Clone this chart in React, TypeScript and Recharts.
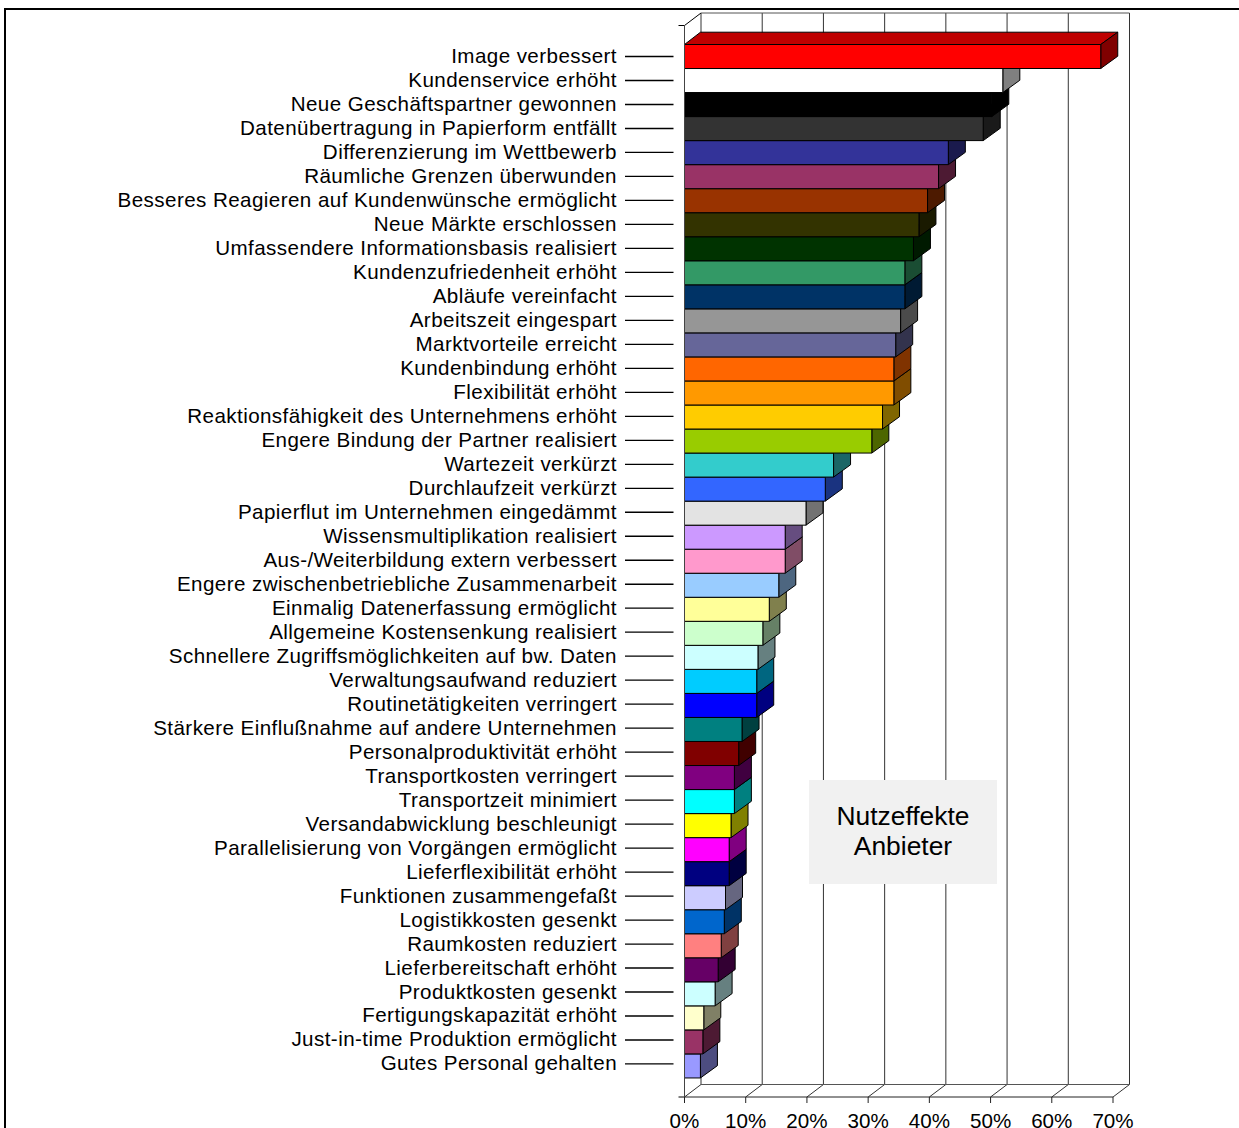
import React from "react";
import { Bar, BarChart, CartesianGrid, ReferenceArea, XAxis, YAxis } from "recharts";

const categories = [
  "Image verbessert",
  "Kundenservice erhöht",
  "Neue Geschäftspartner gewonnen",
  "Datenübertragung in Papierform entfällt",
  "Differenzierung im Wettbewerb",
  "Räumliche Grenzen überwunden",
  "Besseres Reagieren auf Kundenwünsche ermöglicht",
  "Neue Märkte erschlossen",
  "Umfassendere Informationsbasis realisiert",
  "Kundenzufriedenheit erhöht",
  "Abläufe vereinfacht",
  "Arbeitszeit eingespart",
  "Marktvorteile erreicht",
  "Kundenbindung erhöht",
  "Flexibilität erhöht",
  "Reaktionsfähigkeit des Unternehmens erhöht",
  "Engere Bindung der Partner realisiert",
  "Wartezeit verkürzt",
  "Durchlaufzeit verkürzt",
  "Papierflut im Unternehmen eingedämmt",
  "Wissensmultiplikation realisiert",
  "Aus-/Weiterbildung extern verbessert",
  "Engere zwischenbetriebliche Zusammenarbeit",
  "Einmalig Datenerfassung ermöglicht",
  "Allgemeine Kostensenkung realisiert",
  "Schnellere Zugriffsmöglichkeiten auf bw. Daten",
  "Verwaltungsaufwand reduziert",
  "Routinetätigkeiten verringert",
  "Stärkere Einflußnahme auf andere Unternehmen",
  "Personalproduktivität erhöht",
  "Transportkosten verringert",
  "Transportzeit minimiert",
  "Versandabwicklung beschleunigt",
  "Parallelisierung von Vorgängen ermöglicht",
  "Lieferflexibilität erhöht",
  "Funktionen zusammengefaßt",
  "Logistikkosten gesenkt",
  "Raumkosten reduziert",
  "Lieferbereitschaft erhöht",
  "Produktkosten gesenkt",
  "Fertigungskapazität erhöht",
  "Just-in-time Produktion ermöglicht",
  "Gutes Personal gehalten",
];

const shares = [
  68, 52, 50.2, 48.8, 43.1, 41.5, 39.7, 38.3, 37.4, 36, 36, 35.3, 34.5, 34.2, 34.2, 32.35, 30.6,
  24.35, 23, 19.85, 16.45, 16.45, 15.4, 13.85, 12.8, 12, 11.8, 11.8, 9.4, 8.85, 8.15, 8.15, 7.6,
  7.3, 7.3, 6.7, 6.5, 6, 5.5, 5, 3.15, 3, 2.6,
];

const barColors = [
  "#ff0000", "#ffffff", "#000000", "#333333", "#333399", "#993366", "#993300", "#333300",
  "#003300", "#339966", "#003366", "#969696", "#666699", "#ff6600", "#ff9900", "#ffcc00",
  "#99cc00", "#33cccc", "#3366ff", "#e3e3e3", "#cc99ff", "#ff99cc", "#99ccff", "#ffff99",
  "#ccffcc", "#ccffff", "#00ccff", "#0000ff", "#008080", "#800000", "#800080", "#00ffff",
  "#ffff00", "#ff00ff", "#000080", "#ccccff", "#0066cc", "#ff8080", "#660066", "#ccffff",
  "#ffffcc", "#993366", "#9999ff",
];

const percentTicks = [0, 10, 20, 30, 40, 50, 60, 70];

// Bottom row first, so each bar paints over the side face of the one below it.
const rows = categories
  .map((name, i) => ({ name, share: shares[i], color: barColors[i] }))
  .reverse();

const FONT = "'Liberation Sans', Arial, sans-serif";
const CATEGORY_PADDING = 19;
const WALL_DX = 16.5;
const WALL_DY = 12.5;
const BAR_DX = 17;
const BAR_DY = 12.3;
const WALL_STROKE = "#333";

function shade(hex: string, factor: number) {
  const n = parseInt(hex.slice(1), 16);
  const part = (shift: number) => Math.round(((n >> shift) & 255) * factor);
  return `rgb(${part(16)},${part(8)},${part(0)})`;
}

function Bar3D(props: any) {
  const { x, y, width, height, payload } = props;
  const right = x + width;
  const bottom = y + height;
  const edge = { stroke: "#000", strokeWidth: 1, strokeLinejoin: "round" as const };
  return (
    <g>
      <polygon
        points={`${x},${y} ${x + 16},${y - BAR_DY} ${right + BAR_DX},${y - BAR_DY} ${right},${y}`}
        fill={shade(payload.color, 0.75)}
        {...edge}
      />
      <polygon
        points={`${right},${y} ${right + BAR_DX},${y - BAR_DY} ${right + BAR_DX},${bottom - BAR_DY} ${right},${bottom}`}
        fill={shade(payload.color, 0.5)}
        {...edge}
      />
      <rect x={x} y={y} width={width} height={height} fill={payload.color} {...edge} />
    </g>
  );
}

// One back-wall line and its floor diagonal per percent tick
function WallLine(props: any) {
  const { x1, y1, y2 } = props;
  return (
    <g>
      <line x1={x1 + WALL_DX} y1={y1 - WALL_DY} x2={x1 + WALL_DX} y2={y2 - WALL_DY} stroke={WALL_STROKE} />
      <line x1={x1} y1={y2} x2={x1 + WALL_DX} y2={y2 - WALL_DY} stroke={WALL_STROKE} />
    </g>
  );
}

// The area only spans the bands, so the axis padding is added back to reach the plot edges
function WallFrame(props: any) {
  const { x, y, width, height } = props;
  const right = x + width;
  const top = y - CATEGORY_PADDING;
  const bottom = y + height + CATEGORY_PADDING;
  return (
    <g stroke="#555" fill="none">
      <line x1={x + WALL_DX} y1={top - WALL_DY} x2={right + WALL_DX} y2={top - WALL_DY} />
      <line x1={x + WALL_DX} y1={bottom - WALL_DY} x2={right + WALL_DX} y2={bottom - WALL_DY} />
      <line x1={x} y1={top} x2={x + WALL_DX} y2={top - WALL_DY} stroke="#000" />
      <line x1={x - 6} y1={top} x2={x} y2={top} stroke="#000" />
      <line x1={x - 6} y1={bottom} x2={x} y2={bottom} stroke="#000" />
    </g>
  );
}

function CategoryTick(props: any) {
  const { y, payload } = props;
  // The labels run on a slightly tighter pitch than the bars
  const labelY = 56 + (y - 56) * 0.998;
  return (
    <g>
      <text
        x={617}
        y={labelY + 6.5}
        textAnchor="end"
        fontFamily={FONT}
        fontSize={20.6}
        letterSpacing={0.42}
        fill="#000"
      >
        {payload.value}
      </text>
      <line x1={625} y1={labelY} x2={673.5} y2={labelY} stroke="#000" strokeWidth={1.3} />
    </g>
  );
}

function PercentTick(props: any) {
  const { x, payload } = props;
  return (
    <text x={x} y={1127.5} textAnchor="middle" fontFamily={FONT} fontSize={20.6} fill="#000">
      {payload.value}%
    </text>
  );
}

export default function App() {
  return (
    <div style={{ position: "absolute", left: 0, top: 0, width: 1239, height: 1128, overflow: "hidden", background: "#fff" }}>
      <div
        style={{
          position: "absolute",
          left: 4,
          top: 8,
          width: 1240,
          height: 1130,
          borderTop: "2px solid #000",
          borderLeft: "2px solid #000",
        }}
      />
      <BarChart
        width={1239}
        height={1128}
        data={rows}
        layout="vertical"
        barCategoryGap={0}
        margin={{ top: 25.5, right: 126, bottom: 0, left: 0 }}
        style={{ position: "absolute", left: 0, top: 0 }}
      >
        <CartesianGrid horizontal={false} vertical={WallLine} />
        <XAxis
          type="number"
          domain={[0, 70]}
          ticks={percentTicks}
          height={31}
          tick={PercentTick}
          tickSize={6}
          stroke="#222"
          interval={0}
        />
        <YAxis
          type="category"
          dataKey="name"
          reversed
          width={684.5}
          padding={{ top: CATEGORY_PADDING, bottom: CATEGORY_PADDING }}
          interval={0}
          tick={CategoryTick}
          tickLine={false}
          stroke="#444"
        />
        <ReferenceArea x1={0} x2={70} ifOverflow="visible" shape={WallFrame} />
        <Bar dataKey="share" shape={Bar3D} isAnimationActive={false} />
      </BarChart>
      <div
        style={{
          position: "absolute",
          left: 809,
          top: 780,
          width: 188,
          height: 104,
          background: "#f1f1f1",
          fontFamily: FONT,
          fontSize: 26.4,
          lineHeight: "30px",
          textAlign: "center",
          color: "#000",
          paddingTop: 21,
          boxSizing: "border-box",
        }}
      >
        Nutzeffekte
        <br />
        Anbieter
      </div>
    </div>
  );
}
